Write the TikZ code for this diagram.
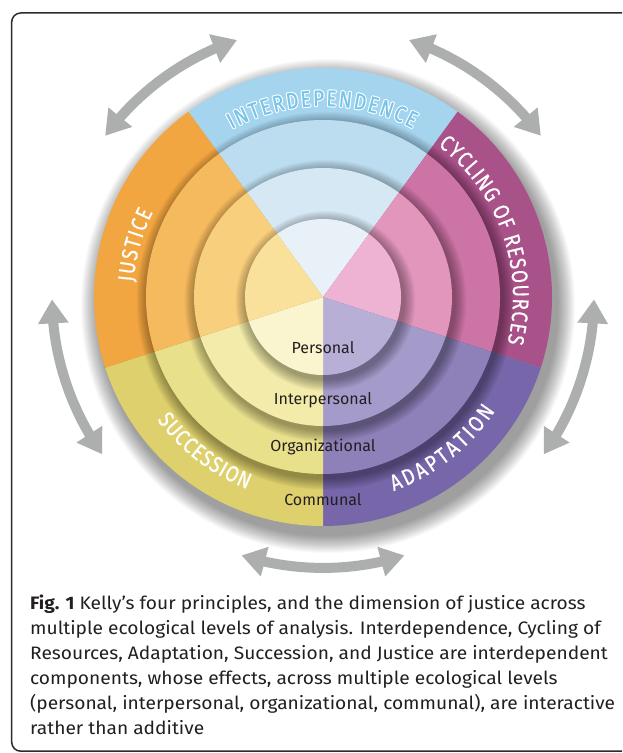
\documentclass[tikz,border=0pt]{standalone}
\usepackage{fontspec}
\setmainfont{Fira Sans}
\newfontfamily\ringfont{Fira Sans}[FakeStretch=0.84, FakeBold=0.5]
\newfontfamily\capfont{Fira Sans}[FakeStretch=1.065]
\usetikzlibrary{arrows.meta,decorations.text,bending}

\definecolor{framecol}{HTML}{2B2B2B}
\definecolor{arrowgray}{HTML}{ADAEAE}
\definecolor{txtcol}{HTML}{231F20}
\definecolor{ibluetxt}{HTML}{74C4EC}
% outer ring
\definecolor{oint}{HTML}{A5D4EE}
\definecolor{ocyc}{HTML}{A9528A}
\definecolor{oada}{HTML}{7766A9}
\definecolor{osuc}{HTML}{DDD06D}
\definecolor{ojus}{HTML}{F2A641}
% third ring
\definecolor{tint}{HTML}{BCDDF0}
\definecolor{tcyc}{HTML}{CD74A6}
\definecolor{tada}{HTML}{8E80B8}
\definecolor{tsuc}{HTML}{E9E08C}
\definecolor{tjus}{HTML}{F5BA5D}
% second ring
\definecolor{sint}{HTML}{D5E8F4}
\definecolor{scyc}{HTML}{E296BC}
\definecolor{sada}{HTML}{A59BCB}
\definecolor{ssuc}{HTML}{F2EBA9}
\definecolor{sjus}{HTML}{F8CF7D}
% inner disk
\definecolor{iint}{HTML}{E7F1F7}
\definecolor{icyc}{HTML}{EEB2D2}
\definecolor{iada}{HTML}{B7AFD6}
\definecolor{isuc}{HTML}{FAF5CE}
\definecolor{ijus}{HTML}{F9E09B}

\newcommand\ringsector[4]{\fill[#1] (0,0) -- ({#2}:{#4}) arc[start angle={#2}, end angle={#3}, radius={#4}] -- cycle;}
\newcommand\ringlevel[6]{%
  \ringsector{#2}{54}{126}{#1}%
  \ringsector{#3}{-18}{54}{#1}%
  \ringsector{#4}{-90}{-18}{#1}%
  \ringsector{#5}{198}{270}{#1}%
  \ringsector{#6}{126}{198}{#1}}
\newcommand\softshadow[1]{%
  \foreach \k in {1,...,12} {\fill[black, opacity=0.03] (2.5,-4) circle[radius={#1+13-\k}];}}
\newcommand\arclabel[6]{%
  \path[decorate, decoration={text along path, text align=fit to path, text color=#1,
    text={|\ringfont\fontsize{#6}{#6}\selectfont|#5}}]
    ({#2}:{#4}) arc[start angle={#2}, end angle={#3}, radius={#4}];}

\tikzset{
  arrowstyle/.style={draw=arrowgray, line width=10pt,
    {Triangle[length=24pt,width=29pt]}-{Triangle[length=24pt,width=29pt]}},
  levellabel/.style={font=\fontsize{16}{17}\selectfont, text=txtcol, anchor=base, inner sep=0pt},
  captionline/.style={font=\capfont\fontsize{18}{21}\selectfont, text=txtcol, anchor=base west, inner sep=0pt}
}

\begin{document}
\begin{tikzpicture}[x=1pt,y=1pt]
\useasboundingbox (0,0) rectangle (622,753);
\fill[white] (0,0) rectangle (622,753);
\begin{scope}
  \clip (0,0) rectangle (622,753);
  \draw[framecol, line width=1.5pt, rounded corners=9pt] (11.7,1.8) rectangle (690,740);
\end{scope}

\coordinate (c) at (323,456);
\begin{scope}[shift={(c)}]
  % double arrows around the wheel
  \foreach \p/\n in {126/a, 54/b, -18/r, -90/d, 198/e} {
    \coordinate (arr\n s) at ({\p-17.5}:271);
    \coordinate (arr\n e) at ({\p+17.5}:271);
    \draw[arrowstyle] (arr\n s) to[bend right=17.5, looseness=0.87] (arr\n e);
  }
  % outer shadow
  \foreach \k in {1,...,18} {\fill[black, opacity=0.022] (5,-9) circle[radius={229+19-\k}];}
  % rings
  \ringlevel{229}{oint}{ocyc}{oada}{osuc}{ojus}
  \softshadow{177}
  \ringlevel{177}{tint}{tcyc}{tada}{tsuc}{tjus}
  \softshadow{129}
  \ringlevel{129}{sint}{scyc}{sada}{ssuc}{sjus}
  \softshadow{78}
  \ringlevel{78}{iint}{icyc}{iada}{isuc}{ijus}

  % principle labels
  \foreach \dr/\da in {1/0, -1/0, 0/0.3, 0/-0.3, 0.7/0.21, 0.7/-0.21, -0.7/0.21, -0.7/-0.21} {
    \arclabel{white}{118.5+\da}{62+\da}{191+\dr}{INTERDEPENDENCE}{22.5}
  }
  \arclabel{ibluetxt}{118.5}{62}{191}{INTERDEPENDENCE}{22.5}
  \arclabel{white}{52.8}{-14}{190}{CYCLING OF RESOURCES}{22.5}
  \arclabel{white}{175.5}{153.5}{190}{JUSTICE}{22.5}
  \arclabel{white}{216.5}{248.5}{206.5}{SUCCESSION}{22.5}
  \arclabel{white}{-70}{-33.5}{206.5}{ADAPTATION}{22.5}

  % level labels
  \node[levellabel] (personal) at (0,-56.3) {Personal};
  \node[levellabel] (interpersonal) at (0,-108) {Interpersonal};
  \node[levellabel] (organizational) at (0,-154.7) {Organizational};
  \node[levellabel] (communal) at (0,-209) {Communal};
\end{scope}

% caption
\node[captionline] (cap1) at (30,143) {\textbf{Fig. 1} Kelly’s four principles, and the dimension of justice across};
\node[captionline] (cap2) at (30,118) {multiple ecological levels of analysis. Interdependence, Cycling of};
\node[captionline] (cap3) at (30,93.5) {Resources, Adaptation, Succession, and Justice are interdependent};
\node[captionline] (cap4) at (30,68) {components, whose effects, across multiple ecological levels};
\node[captionline] (cap5) at (30,43) {(personal, interpersonal, organizational, communal), are interactive};
\node[captionline] (cap6) at (30,18) {rather than additive};
\end{tikzpicture}
\end{document}
